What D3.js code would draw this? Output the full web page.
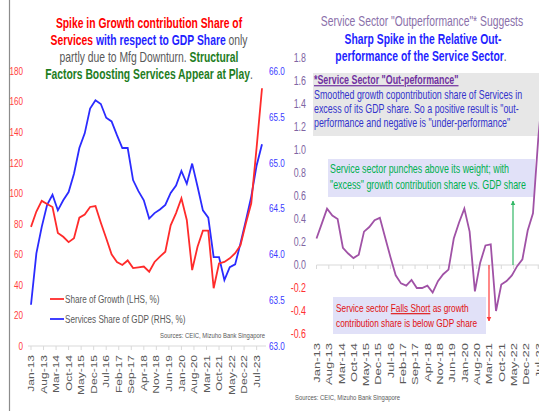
<!DOCTYPE html>
<html lang="en">
<head>
  <meta charset="UTF-8">
  <title>Services share of growth vs GDP</title>
  <style>
    body { margin: 0; background: #fff; }
    svg { display: block; font-family: "Liberation Sans", Arial, sans-serif; }
  </style>
</head>
<body>
  <div id="chart"></div>

  <script src="https://d3js.org/d3.v7.min.js"></script>
  <script>
    // quarterly points, Jan-13 .. Oct-23 (months from Jan-13 = index * 3)
    const growthShare = [78, 88, 95, 93, 91, 74, 71.5, 68, 70.5, 84, 86, 91, 91.6, 80.7, 70.5, 60,
      55, 53, 56, 51, 51.5, 52, 48.6, 55, 58.5, 61.7, 79, 87, 96.7, 82.5, 49.7, 65,
      75.5, 75.5, 37.8, 54, 55, 57.4, 60.7, 66, 80.3, 93.4, 130, 168.7];
    const gdpShare = [63.45, 64.01, 64.30, 64.54, 64.65, 64.48, 64.59, 64.68, 64.88, 65.16, 65.32,
      65.59, 65.68, 65.64, 65.49, 65.45, 65.30, 65.16, 65.16, 64.81, 64.69, 64.59, 64.39,
      64.45, 64.49, 64.54, 64.67, 64.75, 64.91, 64.77, 64.99, 64.74, 64.48, 64.40, 63.97,
      63.97, 63.72, 63.86, 63.89, 64.12, 64.37, 64.63, 64.97, 65.20];
    const outperf = [0.23, 0.36, 0.49, 0.43, 0.40, 0.15, 0.10, 0.06, 0.09, 0.29, 0.33, 0.39, 0.41,
      0.24, 0.07, -0.09, -0.16, -0.18, -0.13, -0.20, -0.20, -0.18, -0.24, -0.14, -0.08, -0.04,
      0.23, 0.37, 0.49, 0.29, -0.23, 0.02, 0.17, 0.18, -0.40, -0.17, -0.14, -0.09, -0.01,
      0.05, 0.30, 0.45, 1.1, 1.6];
    const tickLabels = ['Jan-13', 'Aug-13', 'Mar-14', 'Oct-14', 'May-15', 'Dec-15', 'Jul-16', 'Feb-17',
      'Sep-17', 'Apr-18', 'Nov-18', 'Jun-19', 'Jan-20', 'Aug-20', 'Mar-21', 'Oct-21', 'May-22',
      'Dec-22', 'Jul-23'];
    const leftTicks = [0, 20, 40, 60, 80, 100, 120, 140, 160, 180];
    const rightTicks = [63.0, 63.5, 64.0, 64.5, 65.0, 65.5, 66.0];
    const outTicks = [-0.6, -0.4, -0.2, 0.0, 0.2, 0.4, 0.6, 0.8, 1.0, 1.2, 1.4, 1.6, 1.8];

    const width = 539, height = 411;
    const SX = 0.74; // the original is squeezed sideways, so the text is too

    const svg = d3.select('#chart').append('svg')
      .attr('width', width)
      .attr('height', height);

    svg.append('rect').attr('width', width).attr('height', height).attr('fill', '#fff');

    // text helper: squeezed horizontally, optional rotation
    function txt(g, x, y, parts, o) {
      o = o || {};
      const t = g.append('text')
        .attr('transform', `translate(${x},${y}) scale(${SX},1)` + (o.rotate ? ' rotate(-90)' : ''))
        .attr('text-anchor', o.anchor || 'start')
        .attr('font-size', o.size || 11)
        .attr('dy', o.dy || null);
      if (typeof parts === 'string') parts = [{ t: parts }];
      parts.forEach(p => {
        t.append('tspan')
          .text(p.t)
          .attr('fill', p.c || o.fill || '#595959')
          .attr('font-weight', p.b ? 'bold' : 'normal')
          .attr('text-decoration', p.u ? 'underline' : null);
      });
      return t;
    }

    // panel border
    svg.append('line').attr('x1', 9.5).attr('x2', 9.5).attr('y1', 0).attr('y2', height)
      .attr('stroke', '#8c8c8c').attr('stroke-width', 1.2);

    const months = d => d * 3;

    // ---------- left chart ----------
    const xL = d3.scaleLinear().domain([0, 129]).range([31, 262]);
    const yL = d3.scaleLinear().domain([0, 180]).range([346, 71]);
    const yR = d3.scaleLinear().domain([63, 66]).range([346, 71]);

    const left = svg.append('g');

    // x axis
    left.append('line').attr('x1', 28).attr('x2', 266).attr('y1', 346).attr('y2', 346)
      .attr('stroke', '#d9d9d9');
    tickLabels.forEach((lab, i) => {
      const x = xL(i * 7);
      left.append('line').attr('x1', x).attr('x2', x).attr('y1', 346).attr('y2', 350)
        .attr('stroke', '#d9d9d9');
      txt(left, x, 355, lab, { rotate: true, anchor: 'end', size: 12, dy: '0.35em' });
    });

    leftTicks.forEach(v => {
      txt(left, 23, yL(v), String(v), { anchor: 'end', size: 11, fill: '#ff4040', dy: '0.35em' });
    });
    rightTicks.forEach(v => {
      txt(left, 269, yR(v), v.toFixed(1), { size: 11, fill: '#3a3aff', dy: '0.35em' });
    });

    const lineL = d3.line().x((d, i) => xL(months(i))).y(d => yL(d));
    const lineR = d3.line().x((d, i) => xL(months(i))).y(d => yR(d));

    left.append('path').datum(gdpShare)
      .attr('fill', 'none').attr('stroke', '#2b2bff').attr('stroke-width', 1.8).attr('d', lineR);
    left.append('path').datum(growthShare)
      .attr('fill', 'none').attr('stroke', '#ff2b2b').attr('stroke-width', 1.8).attr('d', lineL);

    // legend
    left.append('line').attr('x1', 50).attr('x2', 64).attr('y1', 299).attr('y2', 299)
      .attr('stroke', '#ff2b2b').attr('stroke-width', 1.8);
    txt(left, 65, 299, 'Share of Growth (LHS, %)', { size: 11, dy: '0.35em' });
    left.append('line').attr('x1', 50).attr('x2', 64).attr('y1', 319).attr('y2', 319)
      .attr('stroke', '#2b2bff').attr('stroke-width', 1.8);
    txt(left, 65, 319, 'Services Share of GDP (RHS, %)', { size: 11, dy: '0.35em' });

    txt(left, 265, 338, 'Sources: CEIC, Mizuho Bank Singapore', { anchor: 'end', size: 8 });

    // title
    txt(left, 149, 28, [{ t: 'Spike in Growth contribution Share of', c: '#ff0000', b: true }],
      { anchor: 'middle', size: 14 });
    txt(left, 149, 45, [
      { t: 'Services', c: '#ff0000', b: true },
      { t: ' with respect to GDP Share', c: '#1f1fff', b: true },
      { t: ' only', c: '#595959' }], { anchor: 'middle', size: 14 });
    txt(left, 149, 62, [
      { t: 'partly due to Mfg Downturn', c: '#595959' },
      { t: '.', c: '#595959' },
      { t: ' Structural', c: '#1e7d1e', b: true }], { anchor: 'middle', size: 14 });
    txt(left, 149, 79, [
      { t: 'Factors Boosting Services Appear at Play', c: '#1e7d1e', b: true },
      { t: '.', c: '#595959' }], { anchor: 'middle', size: 14 });

    // ---------- right chart ----------
    const xO = d3.scaleLinear().domain([0, 129]).range([316.5, 316.5 + 129 * 1.76]);
    const yO = d3.scaleLinear().domain([-0.6, 1.8]).range([334, 58]);

    const right = svg.append('g');

    // boxes
    right.append('rect').attr('x', 313).attr('y', 73).attr('width', 226).attr('height', 63)
      .attr('fill', '#e7e7e7');
    right.append('rect').attr('x', 328).attr('y', 159).attr('width', 207).attr('height', 38)
      .attr('fill', '#e1e1f8');
    right.append('rect').attr('x', 333).attr('y', 297).attr('width', 153).attr('height', 37)
      .attr('fill', '#e1e1f8');

    outTicks.forEach(v => {
      txt(right, 306, yO(v), v.toFixed(1), {
        anchor: 'end', size: 12, dy: '0.35em', fill: v < 0 ? '#ff3030' : '#8064a2'
      });
    });

    right.append('line').attr('x1', xO(0)).attr('x2', width).attr('y1', yO(0)).attr('y2', yO(0))
      .attr('stroke', '#d9d9d9');
    tickLabels.forEach((lab, i) => {
      const x = xO(i * 7);
      right.append('line').attr('x1', x).attr('x2', x).attr('y1', yO(0)).attr('y2', yO(0) + 4)
        .attr('stroke', '#d9d9d9');
      txt(right, x, 343, lab, { rotate: true, anchor: 'end', size: 13, dy: '0.35em' });
    });

    const lineO = d3.line().x((d, i) => xO(months(i))).y(d => yO(d));
    right.append('path').datum(outperf)
      .attr('fill', 'none').attr('stroke', '#a052a6').attr('stroke-width', 1.8).attr('d', lineO);

    // arrows
    const defs = svg.append('defs');
    [['arrG', '#33b866'], ['arrR', '#ff3a3a']].forEach(([id, c]) => {
      defs.append('marker').attr('id', id).attr('viewBox', '0 0 10 10')
        .attr('refX', 9).attr('refY', 5).attr('markerWidth', 4).attr('markerHeight', 5)
        .attr('orient', 'auto')
        .append('path').attr('d', 'M0,0L10,5L0,10Z').attr('fill', c);
    });
    right.append('line').attr('x1', 513).attr('x2', 513).attr('y1', yO(0)).attr('y2', 201)
      .attr('stroke', '#33b866').attr('stroke-width', 1.2).attr('marker-end', 'url(#arrG)');
    right.append('line').attr('x1', 489).attr('x2', 489).attr('y1', yO(0)).attr('y2', 321)
      .attr('stroke', '#ff3a3a').attr('stroke-width', 1.2).attr('marker-end', 'url(#arrR)');

    // box texts
    txt(right, 314, 84, [{ t: '*Service Sector "Out-peformance"', c: '#7030a0', b: true, u: true }],
      { size: 12 });
    txt(right, 314, 99, 'Smoothed growth copontribution share of Services in', { size: 12, fill: '#3333cc' });
    txt(right, 314, 113, 'excess of its GDP share. So a positive result is "out-', { size: 12, fill: '#3333cc' });
    txt(right, 314, 127, 'performance and negative is "under-performance"', { size: 12, fill: '#3333cc' });

    txt(right, 330, 173, 'Service sector punches above its weight; with', { size: 12, fill: '#00b050' });
    txt(right, 330, 189, '"excess" growth contribution share vs. GDP share', { size: 12, fill: '#00b050' });

    txt(right, 336, 312, [
      { t: 'Service sector ', c: '#e01010' },
      { t: 'Falls Short', c: '#e01010', u: true },
      { t: ' as growth', c: '#e01010' }], { size: 11.2 });
    txt(right, 336, 327, 'contribution share is below GDP share', { size: 11.2, fill: '#e01010' });

    txt(right, 295, 400, 'Sources: CEIC, Mizuho Bank Singapore', { size: 8 });

    // right title
    txt(right, 422, 26, 'Service Sector "Outperformance"* Suggests', { anchor: 'middle', size: 14, fill: '#8a70aa' });
    txt(right, 423, 44, [{ t: 'Sharp Spike in the Relative Out-', c: '#1f1fff', b: true }],
      { anchor: 'middle', size: 14 });
    txt(right, 421, 61, [
      { t: 'performance of the Service Sector', c: '#1f1fff', b: true },
      { t: '.', c: '#595959' }], { anchor: 'middle', size: 14 });
  </script>
</body>
</html>
